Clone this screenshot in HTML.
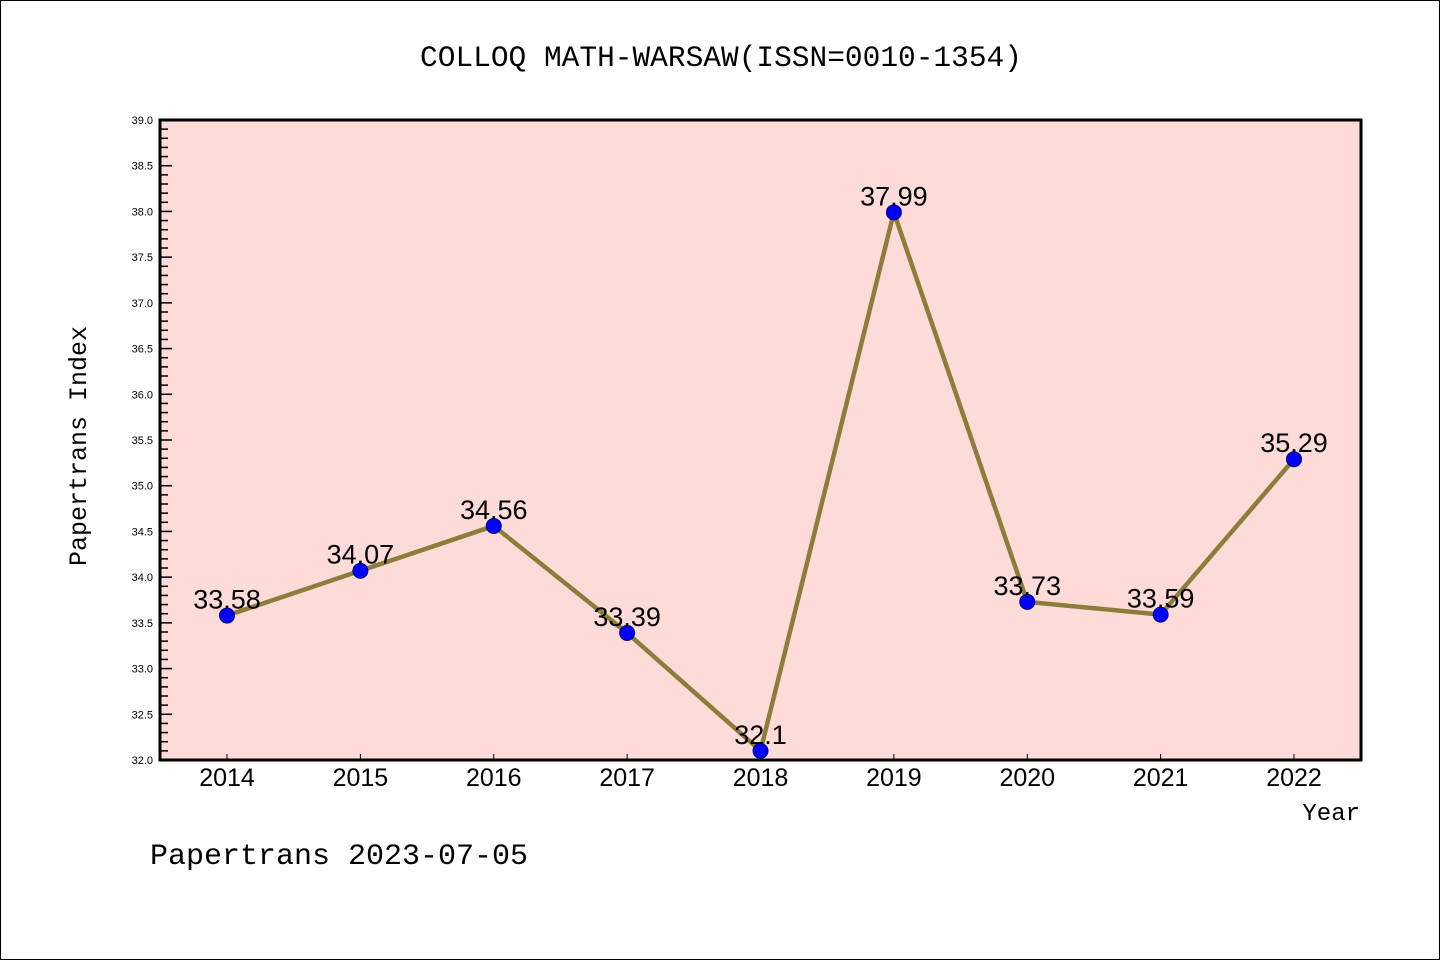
<!DOCTYPE html>
<html><head><meta charset="utf-8"><style>
body{margin:0;background:#fff}
svg{display:block;font-family:"WenQuanYi Zen Hei","Liberation Sans",sans-serif}
.mono{font-family:"Liberation Mono",monospace}
</style></head><body>
<svg id="c" width="1440" height="960">
<rect x="0.5" y="0.5" width="1439" height="959" fill="#fff" stroke="#000"/>
<text class="mono" x="721" y="66" font-size="29.5" text-anchor="middle">COLLOQ MATH-WARSAW(ISSN=0010-1354)</text>
<rect x="160" y="120" width="1201" height="640" fill="#fddbd8"/>
<g id="ticks"></g>
<g id="series"></g>
<rect x="160" y="120" width="1201" height="640" fill="none" stroke="#000" stroke-width="3"/>
<text class="mono" x="86" y="446" font-size="25" text-anchor="middle" transform="rotate(-90 86 446)">Papertrans Index</text>
<text class="mono" x="1360" y="820" font-size="24" text-anchor="end">Year</text>
<text class="mono" x="150" y="864" font-size="30">Papertrans 2023-07-05</text>
</svg>
<script>
const years=["2014","2015","2016","2017","2018","2019","2020","2021","2022"];
const values=[33.58,34.07,34.56,33.39,32.1,37.99,33.73,33.59,35.29];
const valueLabels=["33.58","34.07","34.56","33.39","32.1","37.99","33.73","33.59","35.29"];
const yMin=32,yMax=39;
const NS="http://www.w3.org/2000/svg";
const X0=160,X1=1361,Y0=760,Y1=120;
function xs(i){return 227+i*(1294-227)/(years.length-1);}
function ys(v){return Y0-(v-yMin)/(yMax-yMin)*(Y0-Y1);}
function mk(t,a,p){const e=document.createElementNS(NS,t);for(const k in a)e.setAttribute(k,a[k]);p.appendChild(e);return e;}
const tg=document.getElementById('ticks'),sg=document.getElementById('series');
for(let k=0;k<=70;k++){const v=yMin+k*0.1,y=ys(v),maj=k%5===0;
 const l=mk('line',{x1:X0,x2:X0+(maj?12:8),y1:y,y2:y,stroke:'#000','stroke-width':1.5},tg);
 
 if(maj){const t=mk('text',{x:X0-7,y:y+4,'font-size':11,'text-anchor':'end'},tg);t.textContent=v.toFixed(1);
 }}
years.forEach((yr,i)=>{const x=xs(i);
 const l=mk('line',{x1:x,x2:x,y1:Y0,y2:Y0-6,stroke:'#000','stroke-width':1},tg);
 
 const t=mk('text',{x:x,y:786,'font-size':25,'text-anchor':'middle'},tg);t.textContent=yr;
 });
const pts=values.map((v,i)=>xs(i)+','+ys(v)).join(' ');
const pl=mk('polyline',{points:pts,fill:'none',stroke:'#8e7d3a','stroke-width':4.5,'stroke-linejoin':'round'},sg);

values.forEach((v,i)=>{const x=xs(i),y=ys(v);
 const c=mk('circle',{cx:x,cy:y,r:7.5,fill:'#0000ff',stroke:'#00007a','stroke-width':1},sg);
 
 const t=mk('text',{x:x,y:y-7,'font-size':27,'text-anchor':'middle'},sg);t.textContent=valueLabels[i];
 });
</script>
</body></html>
